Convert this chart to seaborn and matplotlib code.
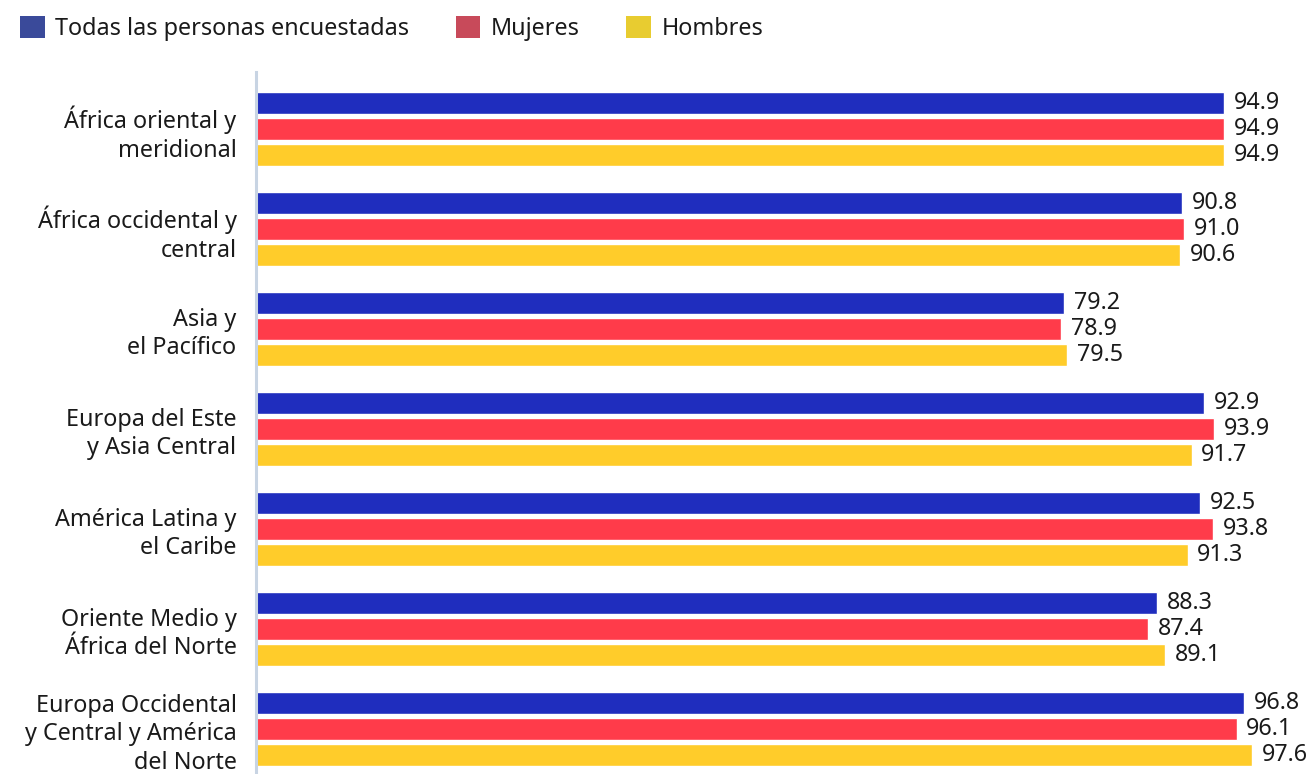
import pandas as pd
import matplotlib.pyplot as plt
import seaborn as sns
from matplotlib.patches import Patch

# -----------------------------
# Data
# -----------------------------
regions = [
    'África oriental y\nmeridional',
    'África occidental y\ncentral',
    'Asia y\nel Pacífico',
    'Europa del Este\ny Asia Central',
    'América Latina y\nel Caribe',
    'Oriente Medio y\nÁfrica del Norte',
    'Europa Occidental\ny Central y América\ndel Norte',
]
groups = ['Todas las personas encuestadas', 'Mujeres', 'Hombres']
todas = [94.9, 90.8, 79.2, 92.9, 92.5, 88.3, 96.8]
mujeres = [94.9, 91.0, 78.9, 93.9, 93.8, 87.4, 96.1]
hombres = [94.9, 90.6, 79.5, 91.7, 91.3, 89.1, 97.6]

bar_colors = ['#1F2DBE', '#FF3B4A', '#FFCC2A']
legend_colors = ['#3A4A9A', '#C84A5A', '#E8CC30']

df = pd.DataFrame({
    'Region': regions * 3,
    'Grupo': [g for g in groups for _ in regions],
    'Valor': todas + mujeres + hombres,
})

# -----------------------------
# Plot
# -----------------------------
sns.set_style("white")
plt.rcParams['font.family'] = ['Noto Sans', 'DejaVu Sans']
text_color = '#1a1a1a'
fs = 16.8

fig = plt.figure(figsize=(13.1, 7.74), dpi=100)
ax = fig.add_axes([256 / 1310, 0, 1 - 256 / 1310, 1 - 72 / 774])

sns.barplot(data=df, y='Region', x='Valor', hue='Grupo', orient='h',
            palette=bar_colors, width=0.78, gap=0.15, legend=False,
            saturation=1, ax=ax)

for cont in ax.containers:
    ax.bar_label(cont, fmt='%.1f', padding=7, fontsize=fs, color=text_color)

ax.set_xlim(0, 103.3)
ax.set_ylim(6.45, -0.57)
ax.set_xlabel('')
ax.set_ylabel('')
ax.set_xticks([])
ax.tick_params(axis='y', length=0, pad=14, labelsize=fs, labelcolor=text_color)
for lbl in ax.get_yticklabels():
    lbl.set_linespacing(1.25)
    lbl.set_horizontalalignment('right')

for side in ['top', 'right', 'bottom']:
    ax.spines[side].set_visible(False)
ax.spines['left'].set_color('#C8D4E3')
ax.spines['left'].set_linewidth(2.2)

handles = [Patch(facecolor=c, edgecolor='none') for c in legend_colors]
fig.legend(handles, groups, loc='upper left', bbox_to_anchor=(0.003, 1.0),
           ncol=3, frameon=False, fontsize=fs, handlelength=1.05,
           handleheight=1.05, handletextpad=0.45, columnspacing=2.0,
           labelcolor=text_color, borderaxespad=0.3)

plt.savefig('out.png', dpi=100)
